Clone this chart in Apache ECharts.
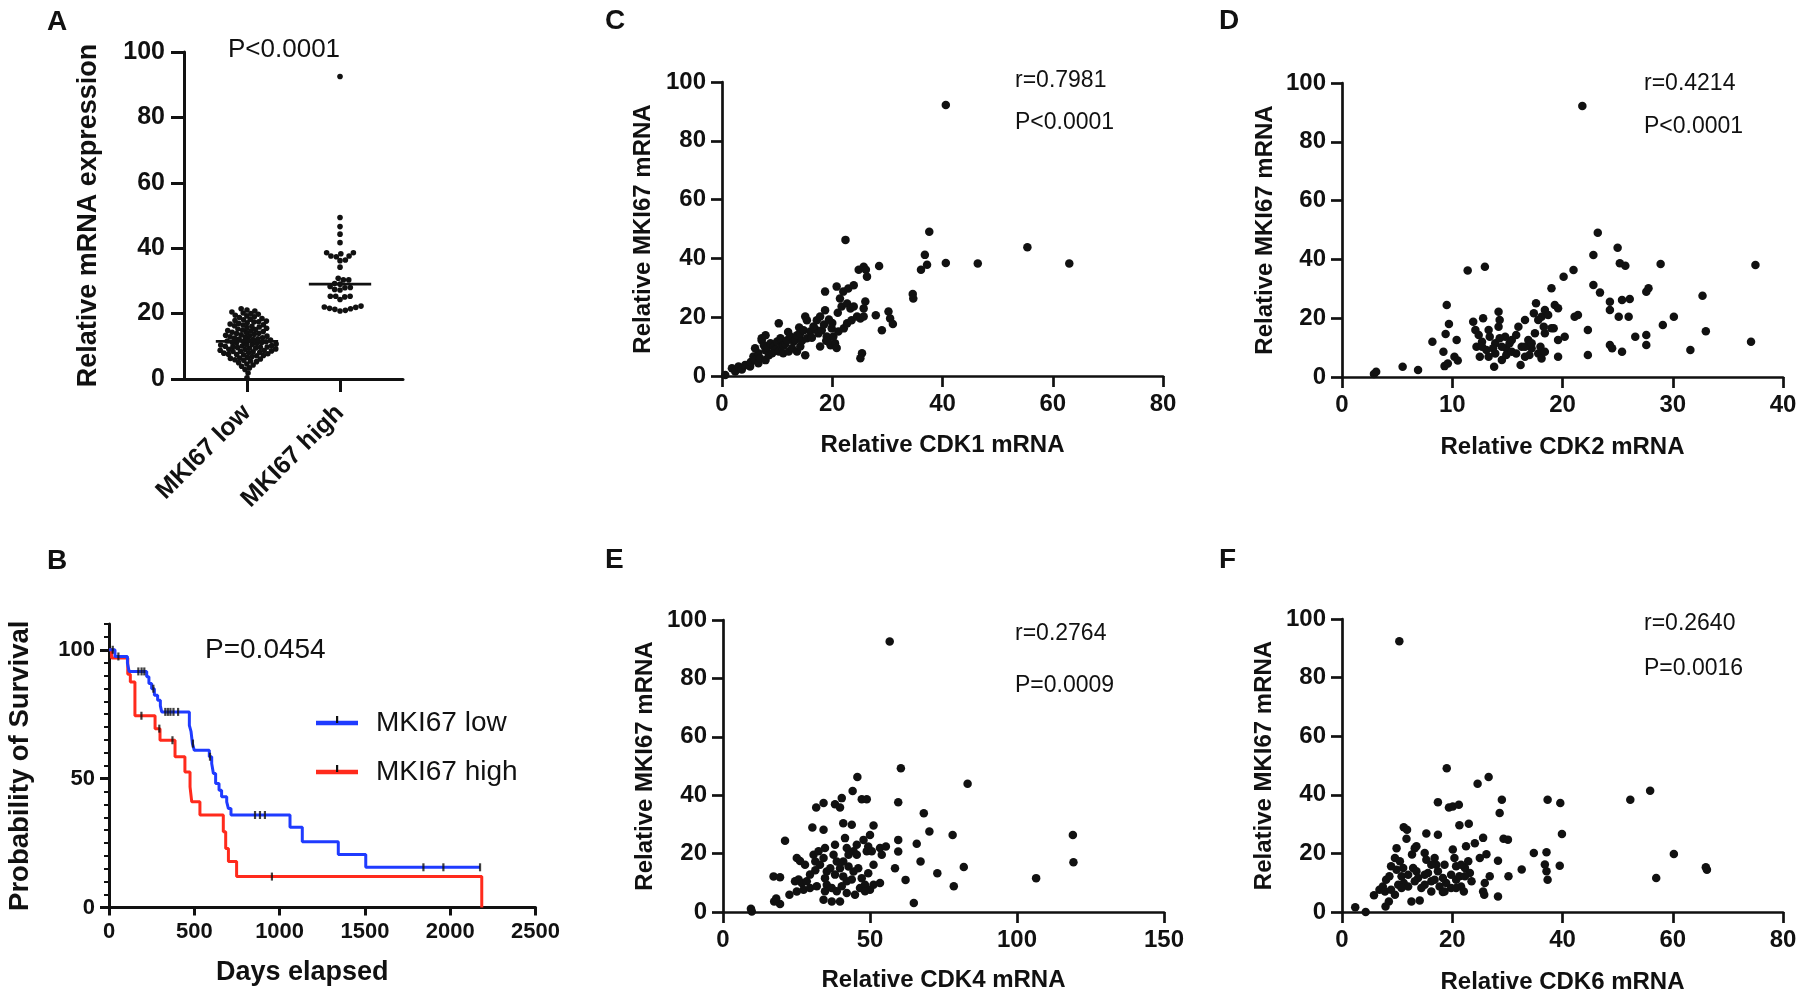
<!DOCTYPE html>
<html><head><meta charset="utf-8">
<script src="https://cdn.jsdelivr.net/npm/echarts@6/dist/echarts.min.js"></script>
<style>html,body{margin:0;padding:0;background:#fff}#c{width:1800px;height:1002px}</style>
</head><body><div id="c"></div><script>
// ---------------- DATA ----------------
const groupNames = ['MKI67 low', 'MKI67 high'];
const lowExpr = [0.4, 1.8, 2.9, 3.4, 3.9,
  4.3, 4.6, 5.0, 5.3, 5.5, 5.7, 5.9, 6.1, 6.3, 6.4, 6.6, 6.9,
  7.1, 7.2, 7.4, 7.5, 7.6, 7.7, 7.9, 8.0, 8.2, 8.3, 8.4, 8.5, 8.6, 8.7, 8.8, 9.0, 9.1, 9.2, 9.4, 9.5, 9.6, 9.7, 9.8, 9.9,
  10.0, 10.1, 10.2, 10.4, 10.5, 10.6, 10.7, 10.9, 11.0, 11.1, 11.3, 11.4, 11.5, 11.6, 11.8, 11.9, 12.1, 12.2, 12.3, 12.5, 12.6, 12.8, 12.9,
  13.1, 13.2, 13.4, 13.5, 13.7, 13.9, 14.0, 14.2, 14.3, 14.5, 14.7, 14.8, 15.0, 15.1, 15.3, 15.5, 15.7, 15.9,
  16.1, 16.3, 16.5, 16.6, 16.8, 17.0, 17.2, 17.4, 17.5, 17.7, 17.9, 18.1, 18.3, 18.5, 18.8,
  19.0, 19.3, 19.5, 19.8, 20.0, 20.2, 20.5, 20.8, 21.1, 21.5];
const highExpr = [92.5, 49.4, 46.6, 44.3, 41.7, 38.6, 38.3, 36.4, 37.6, 37.6, 38.6, 36.2, 37.4, 34.2,
  30.8, 30.3, 30.3, 29.0, 29.2, 28.3, 28.0, 27.4, 27.2, 27.9, 25.3, 25.1, 25.3, 24.3, 25.3,
  22.3, 21.9, 21.6, 21.3, 21.0, 20.8, 21.5, 22.0];

// Kaplan-Meier steps [day, survival %]
const kmLow = [[0,100],[35,97.4],[108,94.8],[118,91.6],[221,89.5],[234,86.9],[250,84.9],[266,82.4],[285,80.4],[301,78.2],[309,75.9],
  [471,70.7],[481,68.2],[489,63.6],[500,61.0],[588,58.5],[602,55.9],[612,52.0],[625,48.1],[645,45.5],[660,43.0],[690,41.0],[700,38.4],[715,35.9],
  [1061,31.1],[1133,25.5],[1344,20.6],[1505,15.6],[2175,15.6]];
const kmHigh = [[0,100],[15,96.8],[110,90.5],[125,87.5],[152,74.4],[270,69.4],[299,64.9],[387,58.5],[445,52.6],[475,46.8],[485,41.0],
  [533,35.9],[670,29.4],[684,22.9],[700,17.8],[748,12.0],[2185,0]];
const kmLowCensor = [22, 55, 172, 191, 207, 260, 330, 345, 360, 378, 405, 492, 592, 856, 885, 914, 1843, 1960, 2175];
const kmHighCensor = [190, 295, 372, 955];

// Scatter pairs [CDKx, MKI67]
const cdk1 = [[0.6,0.3],[1.8,2.6],[2.4,1.5],[3.0,3.2],[3.6,2.2],[4.2,3.7],[5.1,3.2],[5.2,4.8],
[5.7,6.6],[6.0,5.4],[6.6,7.7],[6.6,4.3],[6.9,6.0],[7.9,5.4],[8.5,7.1],[6.0,9.4],
[7.2,12.2],[7.6,10.5],[7.9,8.8],[7.2,12.8],[7.9,13.9],[8.2,9.8],
[8.8,11.1],[9.4,10.0],[9.7,9.0],[10.0,11.7],[10.6,12.8],[9.1,7.7],[10.3,8.3],[10.8,10.0],[11.2,10.5],[11.5,11.0],[11.8,12.2],[11.1,7.7],[12.1,8.3],[12.0,15.0],
[10.3,17.9],
[12.4,13.4],[13.0,11.7],[13.3,12.3],[13.6,13.9],[12.7,9.4],[13.6,8.3],[14.2,10.0],[14.5,12.0],[14.0,16.5],
[14.2,14.5],[14.8,15.6],[15.4,12.8],[16.0,15.1],[15.1,7.1],[16.3,13.0],[16.9,16.0],
[15.1,20.2],[15.4,19.0],[16.6,16.8],[17.2,19.0],[17.8,20.2],[18.7,22.4],
[17.5,14.5],[18.1,15.6],[19.0,13.4],[19.9,16.2],[17.8,10.0],[19.7,10.5],[20.5,11.1],[18.9,12.0],[19.2,11.8],[20.8,9.5],
[20.2,13.4],[21.1,15.1],[22.1,16.2],[22.7,17.9],[18.5,17.5],[19.4,19.2],[20.0,18.0],[21.0,21.5],[23.5,19.0],
[18.7,28.7],[20.8,30.4],[22.0,28.7],[22.9,29.8],[23.9,30.9],[21.4,26.4],[21.7,23.6],[22.7,24.7],[23.3,23.0],
[23.9,23.6],[24.5,20.2],[25.1,19.6],[25.7,20.2],[26.0,25.3],[25.7,23.0],[27.9,20.7],[29.0,15.6],[30.2,21.9],[30.5,19.6],[31.0,17.7],
[25.4,7.7],[25.1,6.0],
[24.8,36.1],[25.7,37.2],[26.3,33.8],[26.1,36.1],[28.5,37.4],[22.4,46.3],
[34.6,27.9],[34.7,26.4],[36.1,36.1],[37.2,37.8],[36.8,41.2],[37.6,49.1],[40.6,38.4],[46.4,38.3],[55.4,43.8],[63.0,38.3],[40.6,92.2]];

const cdk2 = [[2.9,1.0],[3.1,1.8],[5.5,3.5],[6.9,2.4],[8.2,12.0],[9.3,3.7],[9.6,4.6],[9.2,8.6],[9.4,14.6],[9.5,24.5],[9.7,18.0],[10.4,12.6],[10.2,6.9],[10.5,5.6],
[11.4,36.2],[12.96,37.5],
[11.9,18.8],[12.1,16.0],[12.4,14.3],[12.7,12.0],[12.2,10.3],[12.5,6.9],
[12.8,20.0],[13.3,16.0],[13.4,13.7],[13.9,11.5],[13.1,9.2],
[14.2,22.2],[14.3,19.4],[14.2,17.1],
[13.9,8.0],[13.8,3.5],[14.5,5.8],[14.9,9.8],[15.2,11.5],
[16.0,17.1],[15.8,14.3],[16.6,19.4],[16.3,10.3],[16.6,6.9],[16.2,4.1],
[16.9,12.6],[17.2,9.8],[17.5,14.9],[17.8,8.0],[18.1,6.3],
[17.6,25.1],[17.4,21.7],[18.1,20.5],[18.4,22.8],[18.7,21.1],
[17.8,19.4],[18.3,17.1],[18.4,14.9],[19.0,16.6],[18.0,10.3],[18.4,8.6],
[19.3,24.5],[19.6,23.4],[19.2,16.6],[19.6,12.6],[20.2,13.7],
[19.0,30.2],[20.1,34.1],[21.0,36.4],[21.1,20.5],[21.4,21.1],[19.6,6.9],[22.3,7.5],[22.3,16.0],
[22.8,41.5],[22.8,31.3],[23.4,28.7],[23.2,49.1],[25.0,44.0],[25.2,38.7],[25.7,37.8],
[24.3,25.6],[24.3,22.8],[25.1,20.5],[26.0,20.5],[24.3,10.9],[24.5,9.8],[25.4,26.2],[26.1,26.5],[25.4,8.6],
[26.6,13.7],[27.6,14.3],[27.6,10.9],[27.6,29.0],[27.8,30.2],[28.9,38.4],[29.1,17.7],[30.1,20.5],[31.6,9.2],[32.7,27.6],[33.0,15.6],
[21.8,92.2],[37.1,12.0],[37.5,38.1],
[14.5,10.3],[14.9,7.5],[15.4,8.6],[15.8,8.0],[16.6,10.3],[17.0,7.5],[17.2,11.5],[15.4,12.6],[14.8,13.7],[14.3,13.2],[13.7,9.8],[12.7,10.3],[13.3,6.9]];

const cdk4 = [[9.5,1.1],[9.8,0.2],[17.4,3.6],[19.4,2.7],[18.1,4.6],[17.2,12.2],[19.4,11.9],[21.1,24.4],[22.6,5.9],
[25.1,18.5],[26.2,17.5],[27.9,16.2],[24.5,10.5],[25.7,11.1],[26.8,9.9],[28.5,10.5],
[25.1,7.0],[27.4,7.6],[29.6,8.2],[31.9,8.8],
[30.4,28.9],[34.2,28.2],[31.7,35.8],[34.2,37.3],
[30.8,19.6],[32.5,20.8],[31.4,17.3],[33.0,16.2],[31.4,14.3],
[34.7,21.9],[34.2,18.5],[35.3,13.9],[36.5,15.0],[34.7,11.6],
[35.3,9.3],[37.0,8.2],[38.7,7.1],[34.7,7.1],[34.2,4.2],
[38.1,23.0],[37.6,19.6],[38.7,17.3],[39.8,15.0],[38.1,12.8],
[38.1,36.9],[40.4,39.0],[39.8,35.8],[40.9,30.4],[43.8,29.9],
[41.5,25.3],[42.1,21.9],[42.7,19.6],[44.4,20.8],[45.5,23.0],
[40.9,17.3],[42.7,15.6],[44.4,13.9],[46.0,15.0],[43.8,11.1],[42.1,10.5],[40.4,8.8],[42.1,6.5],[44.9,5.9],[46.6,8.2],[48.3,9.3],
[44.1,41.4],[45.7,46.2],[47.2,38.6],[48.9,38.6],
[47.8,24.7],[49.4,22.4],[48.9,20.8],[50.6,20.8],[50.0,26.4],[51.2,29.6],
[51.2,16.2],[49.4,13.3],[51.2,9.3],[50.0,7.6],[48.3,7.1],
[53.4,9.9],[53.4,21.9],[55.4,22.4],[54.0,19.6],[58.5,15.0],[59.6,20.7],[59.6,24.7],[59.6,37.6],[60.5,49.2],
[62.1,11.0],[64.9,3.1],[65.9,23.4],[67.2,17.3],[68.3,33.8],[70.2,27.6],[72.9,13.3],[78.1,26.4],[78.5,8.8],[81.9,15.4],[83.2,43.9],
[56.7,92.6],[106.5,11.6],[119.0,26.4],[119.2,17.0],
[39.8,3.6],[37.0,3.6],[29.6,12.8],[40.9,12.2],[47.2,11.6],[45.5,19.6]];

const cdk6 = [[2.4,1.6],[4.3,0.0],[5.8,5.7],[7.9,1.9],[8.5,3.6],[6.8,7.6],[7.4,8.7],[8.0,11.0],[8.6,12.2],
[8.9,15.6],[9.6,18.4],[9.9,21.8],[7.8,7.0],[8.9,7.6],[9.6,5.9],[10.2,9.3],
[11.2,28.9],[11.8,28.1],[11.7,25.0],[11.2,9.9],[12.0,8.7],[10.8,8.2],[12.6,3.6],[14.1,3.9],
[12.7,19.6],[13.2,21.8],[13.5,22.4],[12.9,15.0],[13.5,13.9],[13.8,11.6],[13.2,10.5],
[15.0,20.1],[15.3,26.8],[15.3,17.8],[15.6,13.3],[16.2,10.5],[15.0,9.3],
[17.4,37.5],[17.4,26.4],[16.8,18.4],[17.1,16.1],[17.4,13.9],[16.8,11.0],[17.7,8.7],[18.3,6.8],
[19.0,49.1],[19.4,35.7],[20.1,36.0],[21.2,36.6],
[20.1,21.3],[20.4,18.4],[20.7,15.6],[19.8,12.7],[20.7,11.0],[21.6,8.7],
[21.3,29.6],[23.0,30.1],[22.5,22.4],[24.1,23.5],[25.6,25.3],
[22.3,15.0],[23.5,10.5],[22.1,7.0],[25.0,18.4],[26.2,19.7],
[24.6,43.8],[26.6,46.1],[25.6,7.0],[25.8,5.9],[26.8,12.2],
[28.3,17.5],[28.3,5.3],[28.6,33.8],[29.0,38.3],[29.3,25.0],[30.1,24.7],[30.2,12.2],[32.6,14.5],[34.8,20.1],
[37.1,20.4],[36.8,16.2],[37.1,13.9],[37.3,11.0],[37.3,38.3],[39.5,15.8],[39.9,26.6],[39.6,37.2],
[52.3,38.3],[55.9,41.4],[57.0,11.6],[60.2,19.8],[66.2,14.4],[66.0,15.3],[10.4,92.4],
[15.0,12.7],[18.6,16.1],[18.9,9.9],[19.8,8.2],[20.7,8.2],[18.3,11.6],[16.2,16.1],[12.0,12.7],[11.1,15.0],[10.5,17.3],[9.9,14.4],[10.8,12.2],[14.4,8.2],[16.2,7.0],[18.6,7.0],[23.2,13.3],[22.9,17.3],[21.6,16.1],[21.3,12.2],[25.9,9.9],[22.3,12.2]];

const corrLabels = [['r=0.7981','P<0.0001'],['r=0.4214','P<0.0001'],['r=0.2764','P=0.0009'],['r=0.2640','P=0.0016']];
const geneTitles = ['Relative CDK1 mRNA','Relative CDK2 mRNA','Relative CDK4 mRNA','Relative CDK6 mRNA'];
const pA = 'P<0.0001';
const pB = 'P=0.0454';

// ---------------- HELPERS ----------------
const FF = '"Liberation Sans", Arial, Helvetica, sans-serif';
const INK = '#111';
const BLUE = '#1f3bff';
const RED = '#ff2a1c';

function swarm(values, center, pxPerX, pxPerY, d) {
  const order = values.map((v, i) => i).sort((a, b) => values[a] - values[b]);
  const placed = [];
  const out = new Array(values.length);
  order.forEach((i, n) => {
    const y = values[i] * pxPerY;
    const forb = [];
    placed.forEach(p => {
      const dy = Math.abs(p.y - y);
      if (dy < d) { const w = Math.sqrt(d * d - dy * dy); forb.push([p.x - w, p.x + w]); }
    });
    const cands = [0];
    forb.forEach(f => cands.push(f[0], f[1]));
    const side = n % 2 ? 1 : -1;
    cands.sort((a, b) => (Math.abs(a) - Math.abs(b)) || (side * (b - a)));
    let x = 0;
    for (const c of cands) {
      if (forb.every(f => c <= f[0] + 1e-6 || c >= f[1] - 1e-6)) { x = c; break; }
    }
    placed.push({ x, y });
    out[i] = [center + x / pxPerX, values[i]];
  });
  return out;
}
function median(a) { const s = a.slice().sort((x, y) => x - y); const m = s.length >> 1; return s.length % 2 ? s[m] : (s[m - 1] + s[m]) / 2; }
function survAt(km, t) { let s = km[0][1]; km.forEach(p => { if (p[0] <= t) s = p[1]; }); return s; }

function axisBase(fs, tickLen, lw, margin) {
  return {
    axisLine: { show: true, onZero: false, lineStyle: { color: INK, width: lw } },
    axisTick: { show: true, inside: false, length: tickLen, lineStyle: { color: INK, width: lw } },
    axisLabel: { show: true, color: INK, fontSize: fs, fontWeight: 'bold', fontFamily: FF, margin: margin },
    splitLine: { show: false },
    nameLocation: 'middle',
    nameTextStyle: { color: INK, fontWeight: 'bold', fontFamily: FF }
  };
}
function merge(a, b) {
  const o = Object.assign({}, a);
  for (const k in a) if (a[k] && typeof a[k] === 'object' && !Array.isArray(a[k])) o[k] = Object.assign({}, a[k]);
  for (const k in b) {
    if (b[k] && typeof b[k] === 'object' && !Array.isArray(b[k]) && o[k] && typeof o[k] === 'object') Object.assign(o[k], b[k]);
    else o[k] = b[k];
  }
  return o;
}
function txt(x, y, s, size, weight, align) {
  return { type: 'text', x: x, y: y, z: 50, style: { text: s, fill: INK, font: (weight || 'normal') + ' ' + size + 'px ' + FF, align: align || 'left', verticalAlign: 'middle' } };
}

// ---------------- LAYOUT ----------------
const grids = [
  { left: 184, top: 52, width: 219, height: 327 },
  { left: 109, top: 624, width: 426.5, height: 283.5 },
  { left: 722, top: 82, width: 441, height: 294 },
  { left: 1342, top: 83, width: 441, height: 294 },
  { left: 723, top: 620, width: 441, height: 292 },
  { left: 1342, top: 619, width: 441, height: 293 }
];

const pxPerXA = 93, pxPerYA = 3.27;
const lowPts = swarm(lowExpr, 0, pxPerXA, pxPerYA, 4.7);
const highPts = swarm(highExpr, 1, pxPerXA, pxPerYA, 5.4);
const medLow = median(lowExpr), medHigh = median(highExpr);
const plain = v => String(v);

const sc = (gi, max, iv, title, gap) => merge(axisBase(24, 11, 2.7, 16), { type: 'value', gridIndex: gi, min: 0, max: max, interval: iv, name: title, nameGap: gap, nameTextStyle: { fontSize: 24 } });

const xAxes = [
  merge(axisBase(25, 13, 3, 30), { type: 'value', gridIndex: 0, min: -0.677, max: 1.677,
    axisTick: { customValues: [0, 1] },
    axisLabel: { customValues: [0, 1], rotate: 45, formatter: v => groupNames[Math.round(v)] } }),
  merge(axisBase(22, 8, 3, 13), { type: 'value', gridIndex: 1, min: 0, max: 2500, interval: 500,
    axisLabel: { formatter: plain },
    name: 'Days elapsed', nameGap: 52, nameTextStyle: { fontSize: 27, padding: [0, 40, 0, 0] } }),
  sc(2, 80, 20, geneTitles[0], 57),
  sc(3, 40, 10, geneTitles[1], 58),
  sc(4, 150, 50, geneTitles[2], 56),
  sc(5, 80, 20, geneTitles[3], 58)
];
const yAxes = [
  merge(axisBase(25, 13, 3, 19), { type: 'value', gridIndex: 0, min: 0, max: 100, interval: 20, name: 'Relative mRNA expression', nameGap: 82, nameTextStyle: { fontSize: 27 } }),
  merge(axisBase(22, 9, 3, 14), { type: 'value', gridIndex: 1, min: 0, max: 110,
    axisTick: { customValues: [0, 50, 100] }, axisLabel: { customValues: [0, 50, 100], formatter: plain },
    name: 'Probability of Survival', nameGap: 75, nameTextStyle: { fontSize: 27.5 } }),
  sc(2, 100, 20, 'Relative MKI67 mRNA', 67),
  sc(3, 100, 20, 'Relative MKI67 mRNA', 65),
  sc(4, 100, 20, 'Relative MKI67 mRNA', 66),
  sc(5, 100, 20, 'Relative MKI67 mRNA', 66),
  { type: 'value', gridIndex: 1, min: 0, max: 110, interval: 5, position: 'left',
    axisLine: { show: false }, axisLabel: { show: false }, splitLine: { show: false },
    axisTick: { show: true, length: 5, lineStyle: { color: INK, width: 2 } } }
];

const dot = (sz) => ({ type: 'scatter', symbol: 'circle', symbolSize: sz, itemStyle: { color: INK, opacity: 1 }, silent: true, animation: false });

const series = [
  Object.assign(dot(5.6), { xAxisIndex: 0, yAxisIndex: 0, data: lowPts }),
  Object.assign(dot(5.6), { xAxisIndex: 0, yAxisIndex: 0, data: highPts }),
  { type: 'line', xAxisIndex: 0, yAxisIndex: 0, symbol: 'none', animation: false, z: 5, lineStyle: { color: INK, width: 2.6 }, data: [[-0.335, medLow], [0.335, medLow]] },
  { type: 'line', xAxisIndex: 0, yAxisIndex: 0, symbol: 'none', animation: false, z: 5, lineStyle: { color: INK, width: 2.6 }, data: [[1 - 0.335, medHigh], [1 + 0.335, medHigh]] },
  { type: 'line', name: groupNames[1], xAxisIndex: 1, yAxisIndex: 1, step: 'end', symbol: 'none', animation: false, lineStyle: { color: RED, width: 3 }, data: kmHigh },
  { type: 'line', name: groupNames[0], xAxisIndex: 1, yAxisIndex: 1, step: 'end', symbol: 'none', animation: false, lineStyle: { color: BLUE, width: 3 }, data: kmLow },
  { type: 'scatter', xAxisIndex: 1, yAxisIndex: 1, symbol: 'rect', symbolSize: [2.2, 8], itemStyle: { color: INK }, animation: false, z: 6, data: kmLowCensor.map(t => [t, survAt(kmLow, t)]) },
  { type: 'scatter', xAxisIndex: 1, yAxisIndex: 1, symbol: 'rect', symbolSize: [2.2, 8], itemStyle: { color: INK }, animation: false, z: 6, data: kmHighCensor.map(t => [t, survAt(kmHigh, t)]) },
  Object.assign(dot(8.5), { xAxisIndex: 2, yAxisIndex: 2, data: cdk1 }),
  Object.assign(dot(8.5), { xAxisIndex: 3, yAxisIndex: 3, data: cdk2 }),
  Object.assign(dot(8.5), { xAxisIndex: 4, yAxisIndex: 4, data: cdk4 }),
  Object.assign(dot(8.5), { xAxisIndex: 5, yAxisIndex: 5, data: cdk6 })
];

const graphic = [
  txt(47, 22, 'A', 28, 'bold'), txt(47, 561, 'B', 28, 'bold'),
  txt(605, 21, 'C', 28, 'bold'), txt(1219, 21, 'D', 28, 'bold'),
  txt(605, 560, 'E', 28, 'bold'), txt(1219, 560, 'F', 28, 'bold'),
  txt(228, 50, pA, 26), txt(205, 650, pB, 28),
  txt(1015, 81, corrLabels[0][0], 23), txt(1015, 123, corrLabels[0][1], 23),
  txt(1644, 84, corrLabels[1][0], 23), txt(1644, 127, corrLabels[1][1], 23),
  txt(1015, 634, corrLabels[2][0], 23), txt(1015, 686, corrLabels[2][1], 23),
  txt(1644, 624, corrLabels[3][0], 23), txt(1644, 669, corrLabels[3][1], 23),
  { type: 'line', z: 50, shape: { x1: 316, y1: 723, x2: 358, y2: 723 }, style: { stroke: BLUE, lineWidth: 4.5 } },
  { type: 'rect', z: 51, shape: { x: 336, y: 716, width: 2.2, height: 7 }, style: { fill: INK } },
  txt(376, 723, groupNames[0], 28),
  { type: 'line', z: 50, shape: { x1: 316, y1: 772, x2: 358, y2: 772 }, style: { stroke: RED, lineWidth: 4.5 } },
  { type: 'rect', z: 51, shape: { x: 336, y: 765, width: 2.2, height: 7 }, style: { fill: INK } },
  txt(376, 772, groupNames[1], 28)
];

const chart = echarts.init(document.getElementById('c'), null, { renderer: 'canvas' });
chart.setOption({
  backgroundColor: '#fff',
  animation: false,
  textStyle: { fontFamily: FF },
  grid: grids,
  xAxis: xAxes,
  yAxis: yAxes,
  series: series,
  graphic: graphic
});
</script></body></html>
